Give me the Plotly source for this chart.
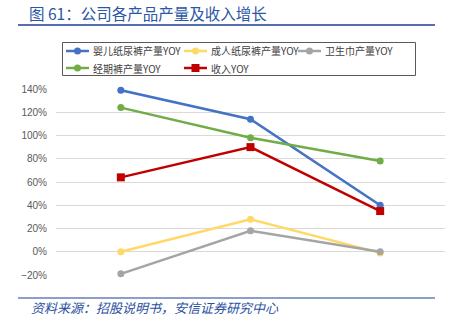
import plotly.graph_objects as go

years = ["2017", "2018", "2019"]
baby = [139, 114, 40]
adult = [0, 28, -1]
napkin = [-19, 18, 0]
pants = [124, 98, 78]
revenue = [64, 90, 35]

series = [
    ("婴儿纸尿裤产量YOY", baby, "#4472C4", "circle", 7),
    ("成人纸尿裤产量YOY", adult, "#FFD966", "circle", 7),
    ("卫生巾产量YOY", napkin, "#A5A5A5", "circle", 7),
    ("经期裤产量YOY", pants, "#70AD47", "circle", 7),
    ("收入YOY", revenue, "#C00000", "square", 8),
]

W, H = 457, 326
L, R, T, B = 56, 12, 89, 51
pw, ph = W - L - R, H - T - B

def px2x(px):
    return (px - L) / pw

def py2y(py):
    return (H - B - py) / ph

fig = go.Figure()
for name, vals, color, sym, sz in series:
    fig.add_trace(go.Scatter(
        x=years, y=vals, name=name, mode="lines+markers",
        line=dict(color=color, width=2.5),
        marker=dict(color=color, symbol=sym, size=sz),
        cliponaxis=False, showlegend=False,
    ))

font_cjk = "Noto Sans CJK SC"
for yr in years:
    fig.add_annotation(x=yr, y=0, xref="x", yref="y", text=yr, showarrow=False,
                       yshift=-13, font=dict(size=10, color="#595959", family="Liberation Sans"))

# header / footer rules
fig.add_shape(type="line", xref="paper", yref="paper", x0=px2x(18), x1=px2x(435),
              y0=py2y(25), y1=py2y(25), line=dict(color="#1F3F96", width=1.5))
fig.add_shape(type="line", xref="paper", yref="paper", x0=px2x(18), x1=px2x(435),
              y0=py2y(298), y1=py2y(298), line=dict(color="#1F3F96", width=1.2))
fig.add_annotation(xref="paper", yref="paper", x=px2x(29), y=py2y(307), xanchor="left",
                   yanchor="middle", showarrow=False,
                   text="<i>资料来源：招股说明书，安信证券研究中心</i>",
                   font=dict(size=13, color="#2A4FA0", family=font_cjk))

# legend box (drawn manually to match the original layout)
fig.add_shape(type="rect", xref="paper", yref="paper", x0=px2x(62.5), x1=px2x(415.5),
              y0=py2y(42.5), y1=py2y(75.5), line=dict(color="#595959", width=1),
              fillcolor="rgba(0,0,0,0)", layer="above")
col_x = [66, 184, 298]
row_y = [51, 68]
for i, (name, vals, color, sym, sz) in enumerate(series):
    r, c = (0, i) if i < 3 else (1, i - 3)
    x0, yc = col_x[c], row_y[r]
    fig.add_shape(type="line", xref="paper", yref="paper", x0=px2x(x0), x1=px2x(x0 + 23),
                  y0=py2y(yc), y1=py2y(yc), line=dict(color=color, width=2.5))
    half = sz / 2
    fig.add_shape(type="circle" if sym == "circle" else "rect",
                  xref="paper", yref="paper", xsizemode="pixel", ysizemode="pixel",
                  xanchor=px2x(x0 + 11.5), yanchor=py2y(yc),
                  x0=-half, x1=half, y0=-half, y1=half,
                  fillcolor=color, line=dict(color=color, width=0))
    fig.add_annotation(xref="paper", yref="paper", x=px2x(x0 + 25), y=py2y(yc),
                       xanchor="left", yanchor="middle", showarrow=False, text=name,
                       font=dict(size=10, color="#404040", family=font_cjk))

fig.update_layout(
    width=W, height=H,
    margin=dict(l=L, r=R, t=T, b=B, autoexpand=False),
    paper_bgcolor="white", plot_bgcolor="white",
    title=dict(text="图 61：公司各产品产量及收入增长", xref="container", yref="container",
               x=29 / W, y=1 - 15 / H, xanchor="left", yanchor="middle",
               font=dict(size=15.5, color="#2A56A6", family=font_cjk)),
    xaxis=dict(range=[-0.5, 2.5], showticklabels=False, showgrid=False, zeroline=False,
               showline=False, ticks=""),
    yaxis=dict(range=[-20, 140], dtick=20, ticksuffix="%", showgrid=True,
               gridcolor="#D9D9D9", gridwidth=1, zeroline=True, zerolinecolor="#D9D9D9",
               zerolinewidth=1, tickfont=dict(size=10, color="#595959", family="Liberation Sans"),
               ticklabelstandoff=8),
    showlegend=False,
)

fig.write_html("out.html")
